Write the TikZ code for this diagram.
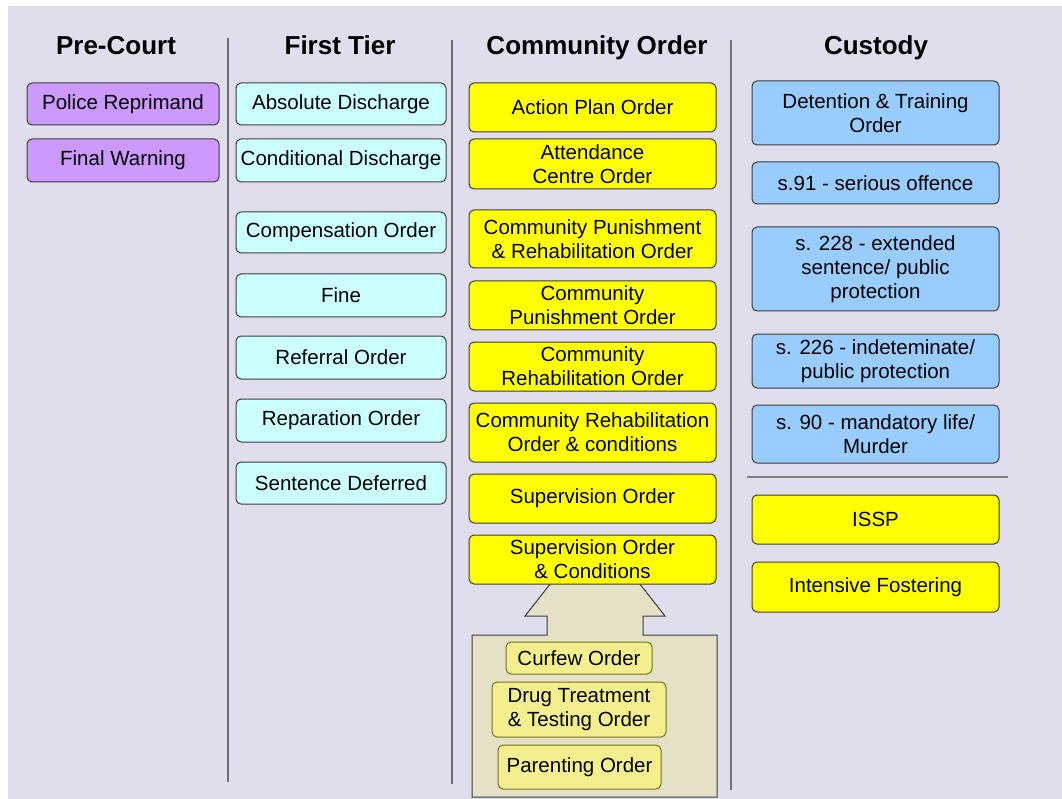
\documentclass[tikz,border=0pt]{standalone}
\usepackage{fontspec}
\setmainfont{Liberation Sans}
\definecolor{bgc}{HTML}{E0DDEC}
\definecolor{purp}{HTML}{CC99FF}
\definecolor{cyn}{HTML}{CCFFFF}
\definecolor{yel}{HTML}{FFFF00}
\definecolor{blu}{HTML}{99CCFF}
\definecolor{khaki}{HTML}{E5E1C6}
\definecolor{paley}{HTML}{F4EF8E}
\definecolor{edge}{HTML}{3C3C3C}
\definecolor{divc}{HTML}{707070}
\tikzset{
  basebox/.style={draw=edge, line width=1pt, rounded corners=5pt, inner sep=0pt, align=center,
    font=\fontsize{20.5}{24}\selectfont},
  pre/.style={basebox, fill=purp},
  tier/.style={basebox, fill=cyn},
  comm/.style={basebox, fill=yel},
  cust/.style={basebox, fill=blu},
  inner/.style={basebox, draw=olive!80!black, fill=paley},
  head/.style={font=\fontsize{26}{29}\selectfont\bfseries, inner sep=0pt, anchor=base},
  divider/.style={draw=divc, line width=1.2pt},
}
\newcommand\pbox[7]{\node[#6, minimum width={(#4-#2)*1pt}, minimum height={(#5-#3)*1pt}] (#1) at ({(#2+#4)/2},{(#3+#5)/2}) {#7};}
\begin{document}
\begin{tikzpicture}[x=1pt,y=-1pt]
\useasboundingbox (0,0) rectangle (1062,799);
\fill[bgc] (8,6) rectangle (1062,799);
% headers
\node[head] (h1) at (116,55) {Pre-Court};
\node[head] (h2) at (340,55) {First Tier};
\node[head] (h3) at (597,55) {Community Order};
\node[head] (h4) at (876,55) {Custody};
% dividers
\coordinate (d1t) at (228,38); \coordinate (d1b) at (228,782);
\coordinate (d2t) at (452,40); \coordinate (d2b) at (452,784);
\coordinate (d3t) at (731,40); \coordinate (d3b) at (731,790);
\draw[divider] (d1t) -- (d1b);
\draw[divider] (d2t) -- (d2b);
\draw[divider] (d3t) -- (d3b);
% pre-court
\pbox{pr}{27}{83}{219}{125}{pre}{Police Reprimand}
\pbox{fw}{27}{139}{219}{182}{pre}{Final Warning}
% first tier
\pbox{ad}{236}{83}{446}{125}{tier}{Absolute Discharge}
\pbox{cd}{236}{139}{446}{182}{tier}{Conditional Discharge}
\pbox{co}{236}{212}{446}{253}{tier}{Compensation Order}
\pbox{fi}{236}{274}{446}{317}{tier}{Fine}
\pbox{ro}{236}{336}{446}{379}{tier}{Referral Order}
\pbox{rp}{236}{399}{446}{442}{tier}{Reparation Order}
\pbox{sd}{236}{462}{446}{504}{tier}{Sentence Deferred}
% container + block arrow (head top hidden behind the box above)
\coordinate (ctl) at (472,635);
\coordinate (ctr) at (717,635);
\coordinate (cbl) at (472,797);
\coordinate (cbr) at (717,797);
\coordinate (hdl) at (569,560);
\coordinate (hdr) at (621,560);
\filldraw[fill=khaki, draw=edge, line width=1pt]
  (cbl) -- (ctl) -- (547,635) -- (547,616) -- (525,616) -- (hdl) -- (hdr)
  -- (665,616) -- (643,616) -- (643,635) -- (ctr) -- (cbr) -- cycle;
% community order
\pbox{ap}{469}{83}{716}{132}{comm}{Action Plan Order}
\pbox{ac}{469}{139}{716}{189}{comm}{Attendance\\Centre Order}
\pbox{cpr}{469}{210}{716}{268}{comm}{Community Punishment\\\& Rehabilitation Order}
\pbox{cp}{469}{281}{716}{330}{comm}{Community\\Punishment Order}
\pbox{cr}{469}{342}{716}{391}{comm}{Community\\Rehabilitation Order}
\pbox{crc}{469}{403}{716}{462}{comm}{Community Rehabilitation\\Order \& conditions}
\pbox{so}{469}{474}{716}{523}{comm}{Supervision Order}
\pbox{soc}{469}{535}{716}{584}{comm}{Supervision Order\\\& Conditions}
% inner
\pbox{cf}{506}{642}{652}{674}{inner}{Curfew Order}
\pbox{dt}{492}{682}{666}{737}{inner}{Drug Treatment\\\& Testing Order}
\pbox{po}{498}{745}{661}{789}{inner}{Parenting Order}
% custody
\pbox{dto}{752}{81}{999}{145}{cust}{Detention \& Training\\Order}
\pbox{s91}{752}{162}{999}{204}{cust}{s.91 - serious offence}
\pbox{s228}{752}{227}{999}{311}{cust}{s. 228 - extended\\sentence/ public\\protection}
\pbox{s226}{752}{334}{999}{388}{cust}{s. 226 - indeteminate/\\public protection}
\pbox{s90}{752}{405}{999}{463}{cust}{s. 90 - mandatory life/\\Murder}
\coordinate (hl) at (747,477); \coordinate (hr) at (1008,477);
\draw[draw=divc!90, line width=2pt] (hl) -- (hr);
\pbox{issp}{752}{495}{999}{544}{comm}{ISSP}
\pbox{if}{752}{562}{999}{612}{comm}{Intensive Fostering}
\end{tikzpicture}
\end{document}
